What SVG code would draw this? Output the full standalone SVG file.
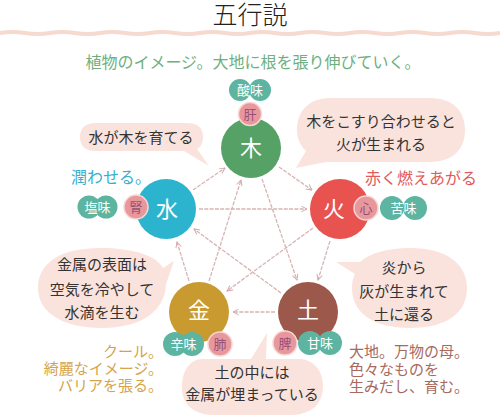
<svg xmlns="http://www.w3.org/2000/svg" width="500" height="416" viewBox="0 0 500 416">
<defs>
<style>
text{font-family:"Noto Sans CJK JP","Noto Sans CJK SC",sans-serif;}
.bub{fill:#fae3dc;}
.bt{font-size:15px;fill:#333;text-anchor:middle;}
.big{font-size:22px;fill:#fff;text-anchor:middle;}
.teal{fill:#5cb4a1;}
.pink{fill:#e8979b;stroke:#f7d6d6;stroke-width:1.5;}
.tt{font-size:13px;fill:#fff;text-anchor:middle;}
.pt{font-size:13px;fill:#97507c;text-anchor:middle;}
.con{fill:none;stroke:#d8b4b4;stroke-width:1.3;stroke-dasharray:4 1.3;marker-end:url(#ah);}
</style>
<marker id="ah" viewBox="0 0 10 10" refX="9" refY="5" markerWidth="7" markerHeight="7" orient="auto" markerUnits="userSpaceOnUse">
<path d="M1 1 L9 5 L1 9" fill="none" stroke="#d4a8ab" stroke-width="1.4"/>
</marker>
</defs>
<rect width="500" height="416" fill="#fff"/>
<text x="250" y="24" font-size="25" fill="#222" text-anchor="middle" style="font-family:'Noto Sans CJK JP',sans-serif;font-weight:300">五行説</text>
<path d="M0 33 Q12 31 25 33 T50 33 T75 33 T100 33 T125 33 T150 33 T175 33 T200 33 T225 33 T250 33 T275 33 T300 33 T325 33 T350 33 T375 33 T400 33 T425 33 T450 33 T475 33 T500 33" fill="none" stroke="#f6d9cf" stroke-width="4"/>
<text x="253" y="68" font-size="16" fill="#6db07e" text-anchor="middle">植物のイメージ。大地に根を張り伸びていく。</text>

<g id="connectors">
<line class="con" x1="193" y1="190" x2="225" y2="168"/>
<line class="con" x1="279" y1="167" x2="312" y2="190"/>
<line class="con" x1="199" y1="209" x2="307" y2="209"/>
<line class="con" x1="262" y1="179" x2="297" y2="280"/>
<line class="con" x1="209" y1="281" x2="241" y2="180"/>
<line class="con" x1="313" y1="228" x2="227" y2="291"/>
<line class="con" x1="281" y1="293" x2="194" y2="229"/>
<line class="con" x1="189" y1="281" x2="177" y2="242"/>
<line class="con" x1="330" y1="241" x2="318" y2="280"/>
<line class="con" x1="275" y1="312" x2="233" y2="312"/>
</g>

<g id="bubble-water-wood">
<path class="bub" d="M96 123 H187 Q203 123 203 137 Q203 146 197 149 L209 166 L184 151 H96 Q80 151 80 137 Q80 123 96 123 Z"/>
<text class="bt" x="141" y="143">水が木を育てる</text>
</g>
<g id="bubble-wood-fire">
<path class="bub" d="M330 98 H430 C454 98 465 112 465 130 C465 150 452 162 430 162 H326 L296 168 L306 151 C299 144 297 137 297 130 C297 112 308 98 330 98 Z"/>
<text class="bt" x="381" y="127">木をこすり合わせると</text>
<text class="bt" x="381" y="150">火が生まれる</text>
</g>
<g id="bubble-metal-water">
<path class="bub" d="M100 248 C134 248 157 256 163 268 L174 261 L166 284 C165 312 140 328 102 328 C62 328 38 312 38 288 C38 262 62 248 100 248 Z"/>
<text class="bt" x="102" y="270">金属の表面は</text>
<text class="bt" x="102" y="295">空気を冷やして</text>
<text class="bt" x="102" y="318">水滴を生む</text>
</g>
<g id="bubble-fire-earth">
<path class="bub" d="M410 248 C448 248 467 265 467 288 C467 312 448 328 410 328 C372 328 352 312 352 288 C352 282 353 278 355 274 L336 262 L360 262 C370 253 388 248 410 248 Z"/>
<text class="bt" x="404" y="273">炎から</text>
<text class="bt" x="404" y="297">灰が生まれて</text>
<text class="bt" x="404" y="320">土に還る</text>
</g>
<g id="bubble-earth-metal">
<path class="bub" d="M202 359 H251 L267 333 L266 359 H300 C315 360 323 372 323 386 C323 404 312 414 292 415 H212 C193 414 182 404 182 388 C182 371 189 360 202 359 Z"/>
<text class="bt" x="252" y="378">土の中には</text>
<text class="bt" x="252" y="400">金属が埋まっている</text>
</g>

<g id="node-wood">
<circle cx="251" cy="148" r="30" fill="#55a166"/>
<circle class="teal" cx="240" cy="90" r="11"/>
<circle class="teal" cx="260" cy="90" r="11"/>
<text class="tt" x="250" y="95">酸味</text>
<circle class="pink" cx="250" cy="114" r="11.5"/>
<text class="pt" x="250" y="119">肝</text>
<text class="big" x="251" y="156">木</text>
</g>
<g id="node-water">
<circle cx="166" cy="209" r="30" fill="#2cb4cf"/>
<circle class="teal" cx="89" cy="207" r="11.5"/>
<circle class="teal" cx="106" cy="207" r="11.5"/>
<text class="tt" x="97.5" y="212">塩味</text>
<circle class="pink" cx="136" cy="207" r="12"/>
<text class="pt" x="136" y="212">腎</text>
<text class="big" x="167" y="217">水</text>
<text x="71" y="183" font-size="16" fill="#38b0cc">潤わせる。</text>
</g>
<g id="node-fire">
<circle cx="340" cy="209" r="30" fill="#e8524f"/>
<circle class="pink" cx="366" cy="208" r="12"/>
<text class="pt" x="366" y="213">心</text>
<circle class="teal" cx="392" cy="208" r="12"/>
<circle class="teal" cx="415" cy="208" r="12"/>
<text class="tt" x="403.5" y="213">苦味</text>
<text class="big" x="334" y="217">火</text>
<text x="365" y="184" font-size="16" fill="#e25a5a">赤く燃えあがる</text>
</g>
<g id="node-metal">
<circle cx="199" cy="312" r="30" fill="#c99a2f"/>
<circle class="teal" cx="175" cy="344" r="12"/>
<circle class="teal" cx="192" cy="344" r="12"/>
<text class="tt" x="183.5" y="349">辛味</text>
<circle class="pink" cx="220" cy="344" r="12"/>
<text class="pt" x="220" y="349">肺</text>
<text class="big" x="199" y="318">金</text>
<g font-size="15" fill="#d4a44c" text-anchor="end">
<text x="163" y="357">クール。</text>
<text x="163" y="374">綺麗なイメージ。</text>
<text x="163" y="391">バリアを張る。</text>
</g>
</g>
<g id="node-earth">
<circle cx="308" cy="312" r="30" fill="#9c584a"/>
<circle class="pink" cx="285" cy="343" r="12"/>
<text class="pt" x="285" y="348">脾</text>
<circle class="teal" cx="310" cy="343" r="12"/>
<circle class="teal" cx="330" cy="343" r="12"/>
<text class="tt" x="320" y="348">甘味</text>
<text class="big" x="308" y="318">土</text>
<g font-size="15" fill="#a8695c">
<text x="349" y="357">大地。万物の母。</text>
<text x="349" y="375">色々なものを</text>
<text x="349" y="392">生みだし、育む。</text>
</g>
</g>
</svg>
